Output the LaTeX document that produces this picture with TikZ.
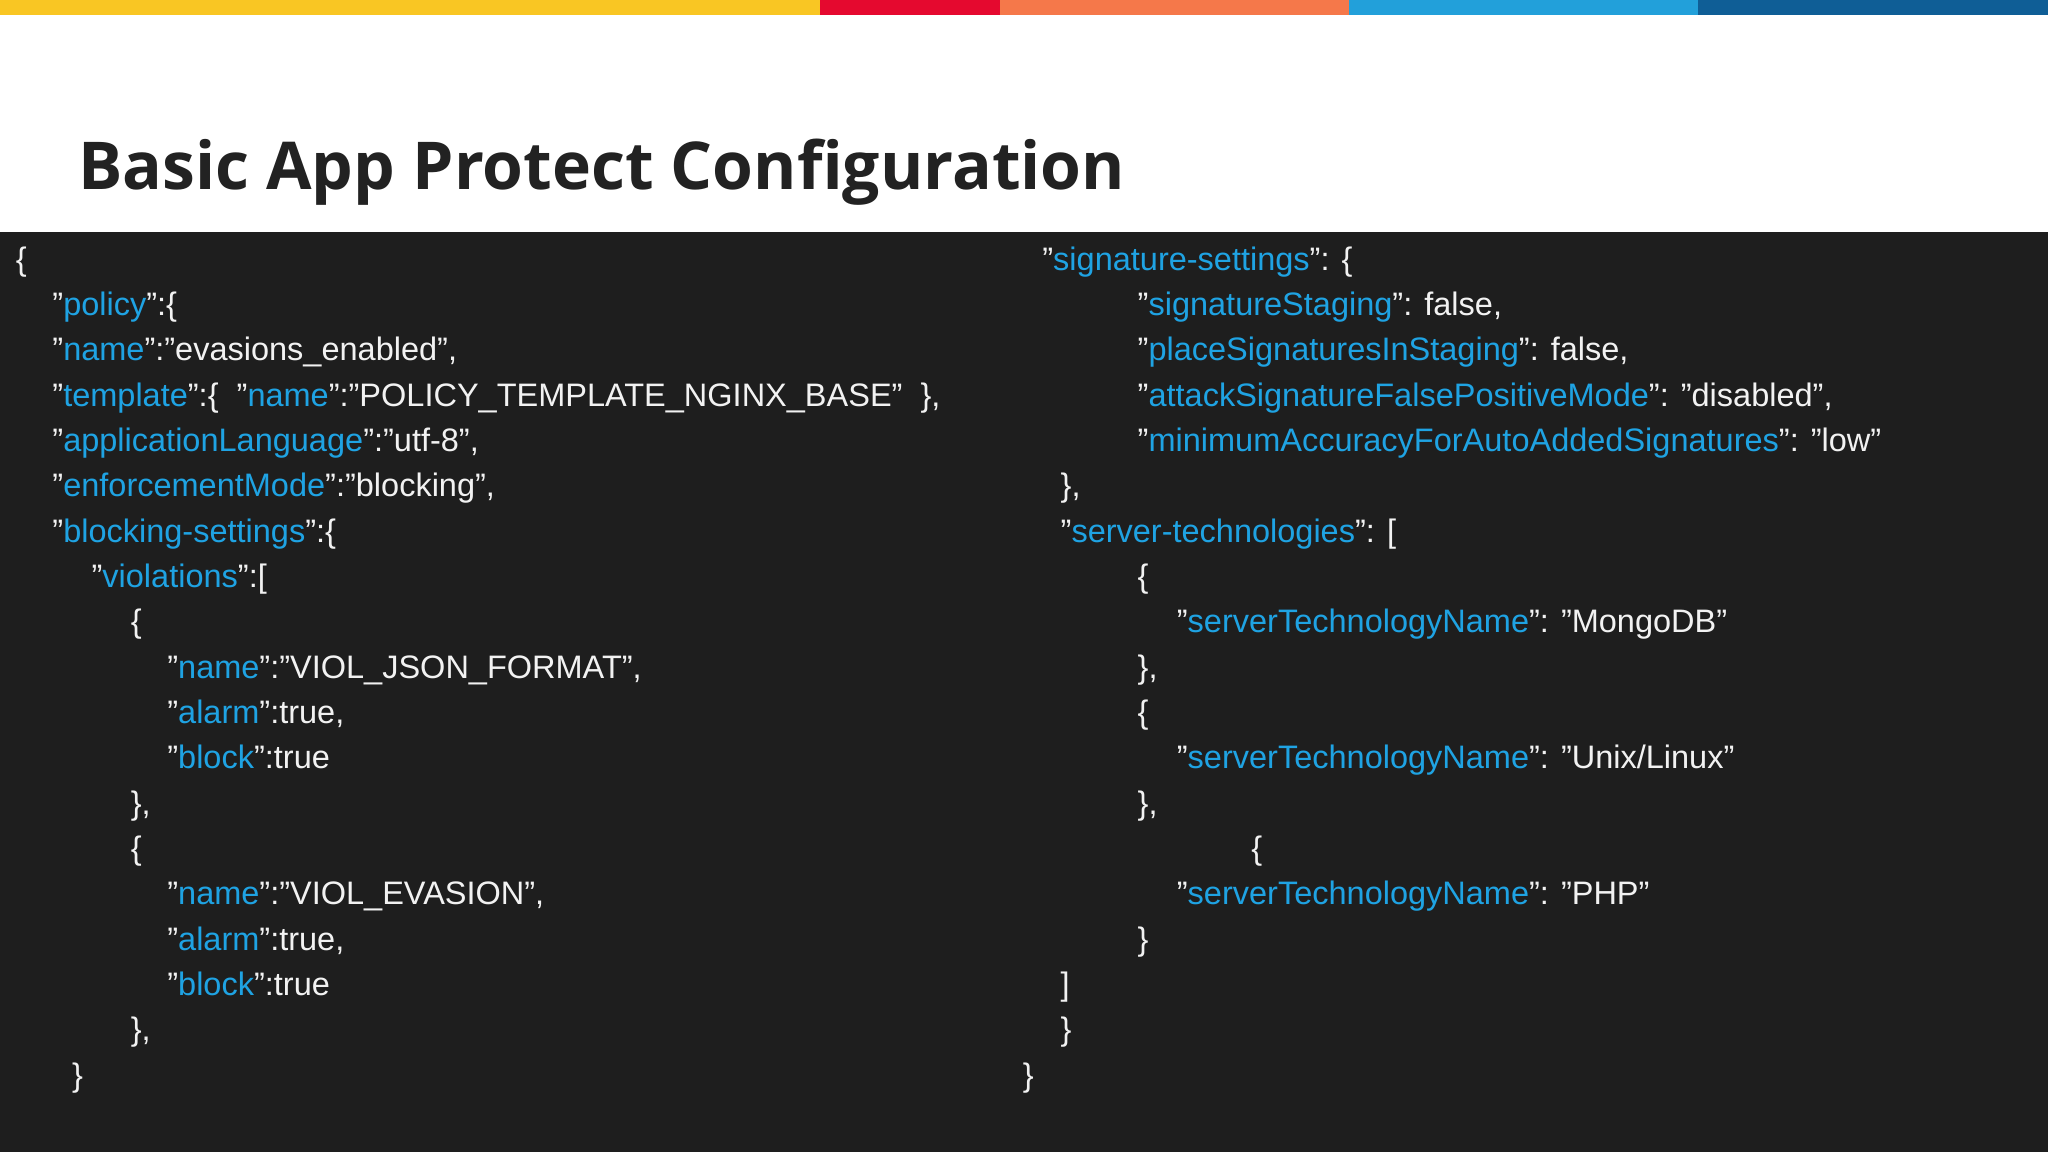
\documentclass[tikz,border=0pt]{standalone}
\usepackage{fontspec}
\setmainfont{Liberation Sans}
\newfontfamily\titlefont{Open Sans}
\definecolor{kblue}{HTML}{1FA3E3}
\definecolor{bg}{HTML}{1E1E1E}
\definecolor{txt}{HTML}{F2F2F2}
\definecolor{ttl}{HTML}{222222}
\definecolor{cA}{HTML}{F9C623}
\definecolor{cB}{HTML}{E5092F}
\definecolor{cC}{HTML}{F5784A}
\definecolor{cD}{HTML}{22A0DA}
\definecolor{cE}{HTML}{0F5E96}
\newcommand{\kk}[1]{{\color{kblue}#1}}
\tikzset{codeline/.style={anchor=base west,inner sep=0pt,text=txt,font=\fontsize{32.5}{36}\selectfont}}
\newcommand{\cl}[4]{\node[codeline] (#1) at (#2*1.306,{-(270+45.35*#3)}) {#4};}
\begin{document}
\begin{tikzpicture}[x=1pt,y=1pt]
\useasboundingbox (0,0) rectangle (2048,-1152);
\fill[white] (0,0) rectangle (2048,-1152);
\fill[bg] (0,-232) rectangle (2048,-1152);
\fill[cA] (0,0) rectangle (820,-15);
\fill[cB] (820,0) rectangle (1000,-15);
\fill[cC] (1000,0) rectangle (1349,-15);
\fill[cD] (1349,0) rectangle (1698,-15);
\fill[cE] (1698,0) rectangle (2048,-15);
\node[anchor=base west,inner sep=0pt,text=ttl,font=\titlefont\bfseries\fontsize{66}{70}\selectfont] (title) at (78,-189) {Basic App Protect Configuration};
% left column
\cl{a0}{12}{0}{\{}
\cl{a1}{40}{1}{"\kk{policy}":\{}
\cl{a2}{40}{2}{"\kk{name}":"evasions\_enabled",}
\cl{a3}{40}{3}{"\kk{template}":\{~~"\kk{name}":"POLICY\_TEMPLATE\_NGINX\_BASE"~~\},}
\cl{a4}{40}{4}{"\kk{applicationLanguage}":"utf-8",}
\cl{a5}{40}{5}{"\kk{enforcementMode}":"blocking",}
\cl{a6}{40}{6}{"\kk{blocking-settings}":\{}
\cl{a7}{70}{7}{"\kk{violations}":[}
\cl{a8}{100}{8}{\{}
\cl{a9}{128}{9}{"\kk{name}":"VIOL\_JSON\_FORMAT",}
\cl{a10}{128}{10}{"\kk{alarm}":true,}
\cl{a11}{128}{11}{"\kk{block}":true}
\cl{a12}{100}{12}{\},}
\cl{a13}{100}{13}{\{}
\cl{a14}{128}{14}{"\kk{name}":"VIOL\_EVASION",}
\cl{a15}{128}{15}{"\kk{alarm}":true,}
\cl{a16}{128}{16}{"\kk{block}":true}
\cl{a17}{100}{17}{\},}
\cl{a18}{55}{18}{\}}
% right column
\cl{b0}{798}{0}{"\kk{signature-settings}": \{}
\cl{b1}{871}{1}{"\kk{signatureStaging}": false,}
\cl{b2}{871}{2}{"\kk{placeSignaturesInStaging}": false,}
\cl{b3}{871}{3}{"\kk{attackSignatureFalsePositiveMode}": "disabled",}
\cl{b4}{871}{4}{"\kk{minimumAccuracyForAutoAddedSignatures}": "low"}
\cl{b5}{812}{5}{\},}
\cl{b6}{812}{6}{"\kk{server-technologies}": [}
\cl{b7}{871}{7}{\{}
\cl{b8}{901}{8}{"\kk{serverTechnologyName}": "MongoDB"}
\cl{b9}{871}{9}{\},}
\cl{b10}{871}{10}{\{}
\cl{b11}{901}{11}{"\kk{serverTechnologyName}": "Unix/Linux"}
\cl{b12}{871}{12}{\},}
\cl{b13}{958}{13}{\{}
\cl{b14}{901}{14}{"\kk{serverTechnologyName}": "PHP"}
\cl{b15}{871}{15}{\}}
\cl{b16}{812}{16}{]}
\cl{b17}{812}{17}{\}}
\cl{b18}{783}{18}{\}}
\end{tikzpicture}
\end{document}
